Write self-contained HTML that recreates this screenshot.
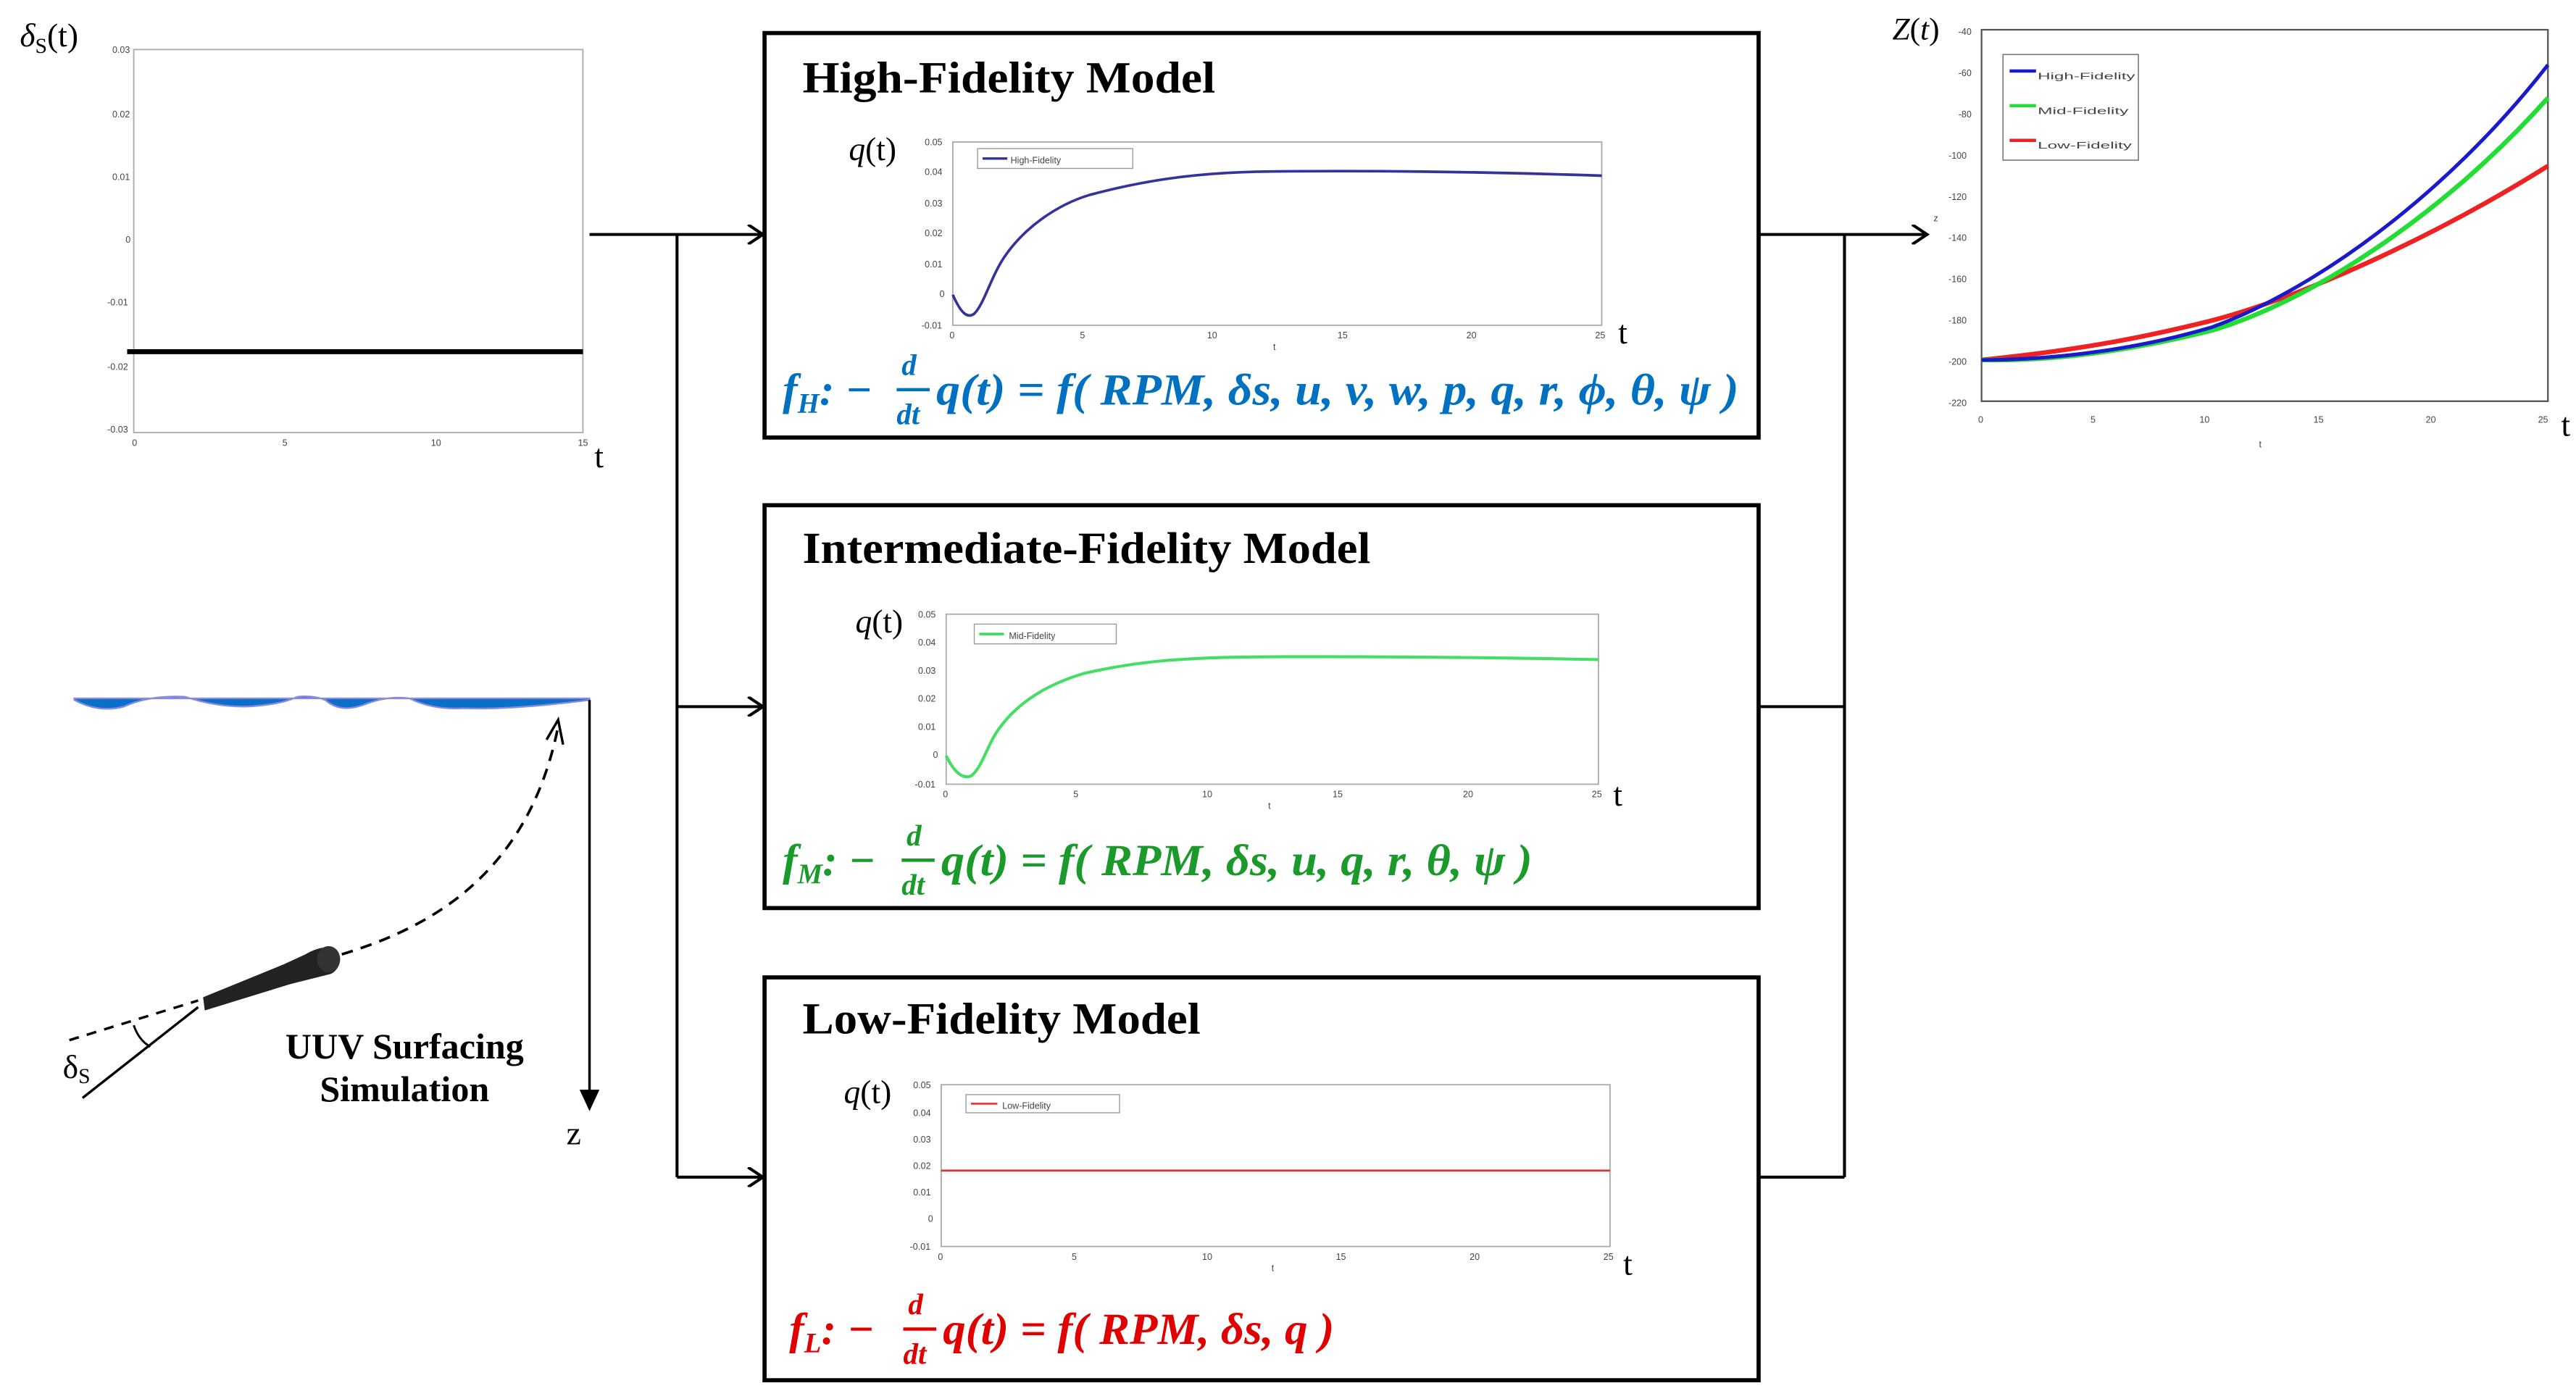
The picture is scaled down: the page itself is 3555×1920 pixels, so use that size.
<!DOCTYPE html>
<html><head><meta charset="utf-8"><style>
html,body{margin:0;padding:0;background:#fff;}
svg{display:block;}
.ax{fill:none;stroke:#aaa;stroke-width:0.8;}
.tk{font-family:"Liberation Sans",sans-serif;font-size:5.5px;fill:#444;}
.ser{font-family:"Liberation Serif",serif;}
.title{font-family:"Liberation Serif",serif;font-weight:bold;font-size:27px;fill:#000;}
.eq{font-family:"Liberation Serif",serif;font-weight:bold;font-style:italic;font-size:27px;}
</style></head><body>
<svg width="3555" height="1920" viewBox="0 0 1560 842.5" xmlns="http://www.w3.org/2000/svg">
<defs>
<marker id="oa" markerWidth="12" markerHeight="12" refX="10" refY="6" orient="auto" markerUnits="userSpaceOnUse">
<path d="M1,0 L10,6 L1,12" fill="none" stroke="#000" stroke-width="1.8"/></marker>
</defs>

<!-- delta plot -->
<text x="12" y="28" class="ser" font-size="20" font-style="italic">δ<tspan font-size="13" dy="4" font-style="normal">S</tspan><tspan dy="-4" font-style="normal">(t)</tspan></text>
<rect x="81" y="30" width="272" height="232" class="ax"/>
<g class="tk" font-size="4.5">
<text x="68" y="32">0.03</text><text x="68" y="71">0.02</text><text x="68" y="109">0.01</text><text x="76" y="147">0</text><text x="65" y="185">-0.01</text><text x="65" y="224">-0.02</text><text x="65" y="262">-0.03</text>
<text x="80" y="270">0</text><text x="171" y="270">5</text><text x="261" y="270">10</text><text x="350" y="270">15</text></g>
<line x1="77" y1="213" x2="353" y2="213" stroke="#000" stroke-width="3"/>
<text x="360" y="283" class="ser" font-size="20">t</text>

<!-- left connectors -->
<line x1="357" y1="142" x2="462" y2="142" stroke="#000" stroke-width="1.8" marker-end="url(#oa)"/>
<line x1="410" y1="142" x2="410" y2="713" stroke="#000" stroke-width="1.8"/>
<line x1="410" y1="428" x2="462" y2="428" stroke="#000" stroke-width="1.8" marker-end="url(#oa)"/>
<line x1="410" y1="713" x2="462" y2="713" stroke="#000" stroke-width="1.8" marker-end="url(#oa)"/>

<!-- boxes -->
<rect x="463" y="20" width="602" height="245" fill="none" stroke="#000" stroke-width="2.5"/>
<rect x="463" y="306" width="602" height="244" fill="none" stroke="#000" stroke-width="2.5"/>
<rect x="463" y="592" width="602" height="244" fill="none" stroke="#000" stroke-width="2.5"/>

<!-- right connectors -->
<line x1="1065" y1="142" x2="1117" y2="142" stroke="#000" stroke-width="1.8"/>
<line x1="1065" y1="428" x2="1117" y2="428" stroke="#000" stroke-width="1.8"/>
<line x1="1065" y1="713" x2="1117" y2="713" stroke="#000" stroke-width="1.8"/>
<line x1="1117" y1="142" x2="1117" y2="713" stroke="#000" stroke-width="1.8"/>
<line x1="1117" y1="142" x2="1167" y2="142" stroke="#000" stroke-width="1.8" marker-end="url(#oa)"/>

<!-- High -->
<text x="486" y="56" class="title" textLength="250" lengthAdjust="spacingAndGlyphs">High-Fidelity Model</text>
<text x="514" y="97" class="ser" font-size="20" font-style="italic">q<tspan font-style="normal">(t)</tspan></text>
<rect x="577" y="86" width="393" height="111" class="ax"/>
<g class="tk"><text x="560" y="88">0.05</text><text x="560" y="106">0.04</text><text x="560" y="125">0.03</text><text x="560" y="143">0.02</text><text x="560" y="162">0.01</text><text x="569" y="180">0</text><text x="558" y="199">-0.01</text>
<text x="575" y="205">0</text><text x="654" y="205">5</text><text x="731" y="205">10</text><text x="810" y="205">15</text><text x="888" y="205">20</text><text x="966" y="205">25</text><text x="771" y="212">t</text></g>
<rect x="592" y="90" width="94" height="12" fill="#fff" stroke="#999" stroke-width="0.6"/>
<line x1="595" y1="96" x2="610" y2="96" stroke="#33339a" stroke-width="1.5"/>
<text x="612" y="99" class="tk" font-size="7.5">High-Fidelity</text>
<path fill="none" stroke="#33339a" stroke-width="1.6" d="M577,178.5 C582,190 586,193 590,190 C596,184 600,168 608,156 C620,138 640,124 660,118 C690,110 720,105 760,104 C820,103 900,104 970,106.4"/>
<text x="980" y="208" class="ser" font-size="20">t</text>
<text x="474" y="245" class="eq" fill="#0070c0">f<tspan font-size="17" dy="5">H</tspan><tspan dy="-5">:  −</tspan><tspan x="546" y="227" font-size="18">d</tspan><tspan x="543" y="257" font-size="18">dt</tspan></text>
<text x="567" y="245" class="eq" fill="#0070c0" textLength="486" lengthAdjust="spacingAndGlyphs">q(t) = f( RPM, δs, u, v, w, p, q, r, ϕ, θ, ψ )</text>
<line x1="543" y1="236" x2="563" y2="236" stroke="#0070c0" stroke-width="2"/>

<!-- Mid -->
<text x="486" y="341" class="title" textLength="344" lengthAdjust="spacingAndGlyphs">Intermediate-Fidelity Model</text>
<text x="518" y="383" class="ser" font-size="20" font-style="italic">q<tspan font-style="normal">(t)</tspan></text>
<rect x="573" y="372" width="395" height="103" class="ax"/>
<g class="tk"><text x="556" y="374">0.05</text><text x="556" y="391">0.04</text><text x="556" y="408">0.03</text><text x="556" y="425">0.02</text><text x="556" y="442">0.01</text><text x="565" y="459">0</text><text x="554" y="477">-0.01</text>
<text x="571" y="483">0</text><text x="650" y="483">5</text><text x="728" y="483">10</text><text x="807" y="483">15</text><text x="886" y="483">20</text><text x="964" y="483">25</text><text x="768" y="490">t</text></g>
<rect x="590" y="378" width="86" height="12" fill="#fff" stroke="#999" stroke-width="0.6"/>
<line x1="593" y1="384" x2="608" y2="384" stroke="#33dd55" stroke-width="1.5"/>
<text x="611" y="387" class="tk" font-size="7.5">Mid-Fidelity</text>
<path fill="none" stroke="#44dd66" stroke-width="1.8" d="M573,457.8 C578,468 583,472 588,470 C595,465 598,450 606,440 C618,424 636,414 656,408 C690,400 720,398 770,397.8 C840,397.5 920,398.5 968,399.5"/>
<text x="977" y="488" class="ser" font-size="20">t</text>
<text x="474" y="530" class="eq" fill="#1a9a2a">f<tspan font-size="17" dy="5">M</tspan><tspan dy="-5">:  −</tspan><tspan x="549" y="512" font-size="18">d</tspan><tspan x="546" y="542" font-size="18">dt</tspan></text>
<text x="570" y="530" class="eq" fill="#1a9a2a" textLength="358" lengthAdjust="spacingAndGlyphs">q(t) = f( RPM, δs, u, q, r, θ, ψ )</text>
<line x1="546" y1="521" x2="566" y2="521" stroke="#1a9a2a" stroke-width="2"/>

<!-- Low -->
<text x="486" y="626" class="title" textLength="241" lengthAdjust="spacingAndGlyphs">Low-Fidelity Model</text>
<text x="511" y="668" class="ser" font-size="20" font-style="italic">q<tspan font-style="normal">(t)</tspan></text>
<rect x="570" y="657" width="405" height="98" class="ax"/>
<g class="tk"><text x="553" y="659">0.05</text><text x="553" y="676">0.04</text><text x="553" y="692">0.03</text><text x="553" y="708">0.02</text><text x="553" y="724">0.01</text><text x="562" y="740">0</text><text x="551" y="757">-0.01</text>
<text x="568" y="763">0</text><text x="649" y="763">5</text><text x="728" y="763">10</text><text x="809" y="763">15</text><text x="890" y="763">20</text><text x="971" y="763">25</text><text x="770" y="770">t</text></g>
<rect x="585" y="663" width="93" height="11" fill="#fff" stroke="#999" stroke-width="0.6"/>
<line x1="588" y1="668.5" x2="604" y2="668.5" stroke="#dd3333" stroke-width="1.2"/>
<text x="607" y="671.5" class="tk" font-size="7.5">Low-Fidelity</text>
<line x1="570" y1="709" x2="975" y2="709" stroke="#dd3333" stroke-width="1.2"/>
<text x="983" y="772" class="ser" font-size="20">t</text>
<text x="478" y="814" class="eq" fill="#e00000">f<tspan font-size="17" dy="5">L</tspan><tspan dy="-5">:  −</tspan><tspan x="550" y="796" font-size="18">d</tspan><tspan x="547" y="826" font-size="18">dt</tspan></text>
<text x="571" y="814" class="eq" fill="#e00000" textLength="237" lengthAdjust="spacingAndGlyphs">q(t) = f( RPM, δs, q )</text>
<line x1="547" y1="805" x2="567" y2="805" stroke="#e00000" stroke-width="2"/>

<!-- Z plot -->
<text x="1146" y="24" class="ser" font-size="19" font-style="italic">Z<tspan font-style="normal">(</tspan>t<tspan font-style="normal">)</tspan></text>
<rect x="1200" y="18" width="343" height="225" fill="none" stroke="#555" stroke-width="1"/>
<g class="tk" font-size="9"><text x="1186" y="21">-40</text><text x="1186" y="46">-60</text><text x="1186" y="71">-80</text><text x="1180" y="96">-100</text><text x="1180" y="121">-120</text><text x="1180" y="146">-140</text><text x="1180" y="171">-160</text><text x="1180" y="196">-180</text><text x="1180" y="221">-200</text><text x="1180" y="246">-220</text>
<text x="1198" y="256">0</text><text x="1266" y="256">5</text><text x="1332" y="256">10</text><text x="1401" y="256">15</text><text x="1469" y="256">20</text><text x="1537" y="256">25</text><text x="1368" y="271">t</text><text x="1171" y="134">z</text></g>
<path fill="none" stroke="#ee2222" stroke-width="2.8" d="M1200,218 C1260,212 1300,204 1340,194 C1400,178 1480,140 1543,100.5"/>
<path fill="none" stroke="#22dd33" stroke-width="2.8" d="M1200,218 C1250,219 1300,210 1340,200 C1400,182 1480,130 1543,59.3"/>
<path fill="none" stroke="#1a1acc" stroke-width="2.2" d="M1200,218 C1250,218 1300,210 1340,198 C1400,176 1480,120 1543,39.3"/>
<rect x="1213" y="33" width="82" height="64" fill="#fff" stroke="#777" stroke-width="0.7"/>
<line x1="1217" y1="43" x2="1233" y2="43" stroke="#1a1acc" stroke-width="2"/>
<line x1="1217" y1="64" x2="1233" y2="64" stroke="#22dd33" stroke-width="2"/>
<line x1="1217" y1="85" x2="1233" y2="85" stroke="#ee2222" stroke-width="2"/>
<g class="tk" font-size="13" fill="#222"><text x="1234" y="48" textLength="59" lengthAdjust="spacingAndGlyphs">High-Fidelity</text><text x="1234" y="69" textLength="55" lengthAdjust="spacingAndGlyphs">Mid-Fidelity</text><text x="1234" y="90" textLength="57" lengthAdjust="spacingAndGlyphs">Low-Fidelity</text></g>
<text x="1551" y="264" class="ser" font-size="20">t</text>

<!-- UUV scene -->
<path d="M45,424 Q60,432 75,428 Q90,421 112,422 Q130,428 148,428 Q170,427 180,422 Q190,421 197,424 Q206,432 220,427 Q235,421 248,423 Q262,430 280,429 Q310,430 357,424 L357,423 L45,423 Z" fill="#0a6fc8" stroke="#8a8ae0" stroke-width="1"/>
<line x1="357" y1="424" x2="357" y2="662" stroke="#000" stroke-width="1.5"/>
<path d="M351,660 L363,660 L357,673 Z" fill="#000"/>
<text x="343" y="693" class="ser" font-size="20">z</text>
<path d="M207,578 C260,562 320,530 338,440" fill="none" stroke="#000" stroke-width="1.6" stroke-dasharray="7,5"/>
<path d="M331,448 L338,436 L341,451" fill="none" stroke="#000" stroke-width="1.5"/>
<path d="M123,604 L172,584 L185,578 C192,574 200,572 204,576 C208,581 205,588 200,590 L176,596 L124,612 Z" fill="#222"/>
<ellipse cx="199" cy="581" rx="7" ry="8" fill="#333"/>
<path d="M42,630 L120,606" fill="none" stroke="#000" stroke-width="1.5" stroke-dasharray="6,5"/>
<line x1="50" y1="665" x2="120" y2="610" stroke="#000" stroke-width="1.5"/>
<path d="M81,621 Q84,630 91,634" fill="none" stroke="#000" stroke-width="1.3"/>
<text x="38" y="653" class="ser" font-size="20">δ<tspan font-size="13" dy="3">S</tspan></text>
<text x="245" y="641" class="ser" font-size="22" font-weight="bold" text-anchor="middle">UUV Surfacing</text>
<text x="245" y="667" class="ser" font-size="22" font-weight="bold" text-anchor="middle">Simulation</text>
</svg>
</body></html>
